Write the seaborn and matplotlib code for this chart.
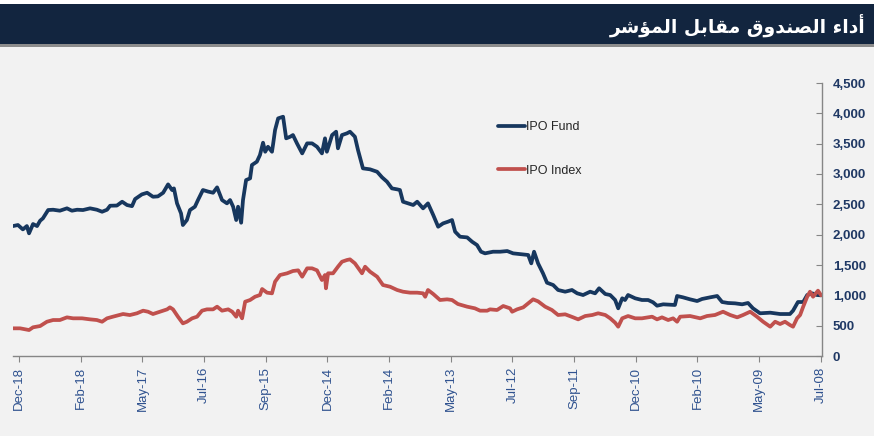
import numpy as np
import pandas as pd
import matplotlib
matplotlib.use('Agg')
import matplotlib.pyplot as plt
from matplotlib.patches import Rectangle
from matplotlib.ticker import FuncFormatter
import seaborn as sns

# trading-day index counted from the latest observation (Dec-18 on the left)
fund_day = [0, 16, 32, 45, 52, 65, 78, 88, 97, 114, 130, 152, 175, 191, 208, 227,
            250, 272, 289, 305, 315, 337, 354, 370, 386, 396, 418, 435, 454, 470,
            487, 503, 516, 522, 532, 545, 551, 564, 574, 590, 600, 616, 633, 649,
            662, 678, 694, 704, 714, 724, 730, 740, 746, 756, 769, 775, 791, 801,
            811, 818, 827, 840, 844, 850, 860, 876, 886, 899, 908, 921, 938, 954,
            970, 986, 1002, 1012, 1018, 1035, 1048, 1054, 1067, 1083, 1093, 1109,
            1119, 1135, 1158, 1181, 1197, 1213, 1229, 1246, 1255, 1265, 1281, 1298,
            1311, 1330, 1346, 1363, 1379, 1395, 1411, 1424, 1434, 1450, 1473, 1489,
            1505, 1518, 1531, 1557, 1580, 1603, 1622, 1651, 1671, 1681, 1690, 1703,
            1719, 1732, 1752, 1768, 1791, 1813, 1830, 1849, 1872, 1888, 1901, 1921,
            1937, 1953, 1963, 1976, 1985, 1995, 2018, 2040, 2060, 2076, 2089, 2109,
            2147, 2154, 2173, 2196, 2219, 2235, 2261, 2284, 2300, 2319, 2342, 2365,
            2384, 2400, 2423, 2456, 2488, 2520, 2530, 2546, 2563, 2576, 2592, 2608,
            2621]
fund_val = [2142, 2159, 2087, 2142, 2022, 2175, 2142, 2230, 2269, 2406, 2411, 2395,
            2434, 2395, 2411, 2406, 2434, 2411, 2378, 2411, 2477, 2480, 2543, 2488,
            2470, 2587, 2664, 2691, 2625, 2631, 2691, 2829, 2736, 2763, 2516, 2351,
            2159, 2241, 2406, 2461, 2571, 2736, 2710, 2691, 2780, 2571, 2516, 2571,
            2461, 2241, 2461, 2197, 2571, 2900, 2928, 3148, 3203, 3313, 3516, 3367,
            3449, 3367, 3505, 3725, 3917, 3944, 3588, 3614, 3642, 3505, 3340, 3505,
            3505, 3449, 3340, 3588, 3367, 3642, 3697, 3423, 3642, 3670, 3697, 3614,
            3395, 3093, 3077, 3037, 2945, 2873, 2763, 2747, 2736, 2543, 2516, 2489,
            2543, 2434, 2516, 2324, 2131, 2186, 2214, 2241, 2049, 1966, 1955, 1884,
            1829, 1719, 1692, 1719, 1719, 1730, 1692, 1676, 1665, 1527, 1719, 1527,
            1363, 1208, 1170, 1088, 1060, 1088, 1033, 1005, 1060, 1033, 1116, 1022,
            1005, 923, 786, 951, 923, 1005, 951, 923, 923, 885, 829, 852,
            841, 989, 967, 934, 906, 940, 967, 989, 890, 874, 868, 852,
            874, 786, 704, 714, 692, 692, 747, 890, 890, 1005, 1033, 1005,
            1000]

index_day = [0, 23, 39, 52, 65, 88, 110, 130, 152, 175, 195, 224, 250, 272, 289,
             305, 324, 357, 379, 402, 422, 438, 454, 477, 500, 509, 519, 535, 551,
             564, 581, 597, 613, 629, 649, 662, 678, 698, 711, 724, 730, 743, 753,
             769, 785, 801, 808, 824, 840, 850, 866, 889, 908, 925, 938, 954, 970,
             986, 1002, 1012, 1015, 1022, 1038, 1054, 1067, 1083, 1093, 1109, 1132,
             1142, 1158, 1181, 1200, 1223, 1246, 1265, 1288, 1311, 1330, 1337, 1346,
             1363, 1385, 1408, 1424, 1443, 1473, 1498, 1515, 1538, 1547, 1570, 1590,
             1612, 1619, 1635, 1655, 1671, 1687, 1703, 1726, 1748, 1768, 1791, 1817,
             1833, 1856, 1879, 1898, 1921, 1937, 1953, 1963, 1976, 1995, 2018, 2040,
             2073, 2089, 2105, 2125, 2141, 2154, 2164, 2196, 2229, 2251, 2277, 2303,
             2326, 2349, 2368, 2391, 2413, 2433, 2456, 2472, 2488, 2504, 2520, 2530,
             2543, 2553, 2563, 2576, 2585, 2595, 2611, 2621]
index_val = [456, 456, 440, 428, 473, 494, 565, 593, 593, 637, 621, 621, 604, 593,
             565, 621, 648, 692, 675, 704, 747, 730, 692, 730, 769, 802, 769, 648,
             538, 565, 621, 648, 747, 769, 769, 813, 747, 769, 730, 648, 747, 621,
             895, 923, 977, 1005, 1104, 1044, 1033, 1225, 1335, 1363, 1401, 1412,
             1307, 1445, 1445, 1412, 1252, 1335, 1116, 1363, 1363, 1472, 1554, 1582,
             1593, 1527, 1363, 1472, 1390, 1307, 1170, 1142, 1088, 1060, 1044, 1044,
             1033, 977, 1088, 1022, 923, 934, 923, 857, 813, 786, 747, 747, 769, 758,
             824, 786, 730, 769, 802, 868, 934, 901, 813, 758, 676, 687, 637, 604,
             659, 676, 704, 676, 621, 549, 483, 621, 659, 621, 621, 648, 604, 637,
             593, 621, 565, 648, 659, 621, 659, 676, 730, 676, 637, 676, 730, 648,
             565, 483, 565, 527, 565, 511, 483, 621, 676, 813, 977, 1060, 977, 1077,
             1000]

tick_labels = ['Dec-18', 'Feb-18', 'May-17', 'Jul-16', 'Sep-15', 'Dec-14', 'Feb-14',
               'May-13', 'Jul-12', 'Sep-11', 'Dec-10', 'Feb-10', 'May-09', 'Jul-08']

# Arabic title in presentation forms, visual order (matplotlib does no shaping)
title_logical = ('\uFE83\uFEA9\uFE8D\uFE80 '
                 '\uFE8D\uFEDF\uFEBC\uFEE8\uFEAA\uFEED\uFED5 '
                 '\uFEE3\uFED8\uFE8E\uFE91\uFEDE '
                 '\uFE8D\uFEDF\uFEE4\uFE86\uFEB7\uFEAE')
title = title_logical[::-1]

df = pd.concat([
    pd.DataFrame({'day': fund_day, 'value': fund_val, 'series': 'IPO Fund'}),
    pd.DataFrame({'day': index_day, 'value': index_val, 'series': 'IPO Index'}),
])

sns.set_style("ticks")
plt.rcParams['font.family'] = ['Liberation Sans', 'DejaVu Sans']

bg = '#f2f2f2'
fig = plt.figure(figsize=(8.74, 4.36), dpi=100, facecolor=bg)
fig.patches.append(Rectangle((0, 1 - 4 / 436), 1, 4 / 436, transform=fig.transFigure,
                             facecolor='white', edgecolor='none', zorder=0))
fig.patches.append(Rectangle((0, 1 - 44 / 436), 1, 40 / 436, transform=fig.transFigure,
                             facecolor='#12253f', edgecolor='none', zorder=1))
fig.patches.append(Rectangle((0, 1 - 47 / 436), 1, 3 / 436, transform=fig.transFigure,
                             facecolor='#8c8c8c', edgecolor='none', zorder=1))
fig.text(866 / 874, 1 - 25 / 436, title, ha='right', va='center', color='white',
         fontsize=13.5, fontweight='bold', family=['DejaVu Sans'])

ax = fig.add_axes([13 / 874, 80 / 436, 808.7 / 874, 273 / 436])
ax.set_facecolor(bg)
sns.lineplot(data=df, x='day', y='value', hue='series', estimator=None,
             palette={'IPO Fund': '#17375e', 'IPO Index': '#c0504d'},
             linewidth=2.7, ax=ax)

ax.set_xlim(0, 2623)
ax.set_ylim(0, 4500)
ax.set_xticks([20 + 200 * i for i in range(len(tick_labels))])
ax.set_xticklabels(tick_labels, rotation=90, fontsize=9.5, color='#2f528f')
ax.set_yticks(np.arange(0, 4501, 500))
ax.yaxis.set_major_formatter(FuncFormatter(lambda v, p: f'{int(v):,}'))
ax.yaxis.tick_right()
for lab in ax.get_yticklabels():
    lab.set_fontweight('bold')
ax.tick_params(axis='y', direction='in', length=4, pad=8, labelsize=9.5,
               labelcolor='#1f3864', color='#868686')
ax.tick_params(axis='x', direction='out', length=4, pad=4, color='#868686')
ax.set_xlabel('')
ax.set_ylabel('')
for side in ['left', 'top']:
    ax.spines[side].set_visible(False)
for side in ['right', 'bottom']:
    ax.spines[side].set_color('#868686')
    ax.spines[side].set_linewidth(1)

ax.legend(loc='upper left', bbox_to_anchor=(487 / 874, 1 - 110 / 436),
          bbox_transform=fig.transFigure, frameon=False, fontsize=9,
          handlelength=2.1, handletextpad=0.1, labelspacing=2.5,
          labelcolor='#262626')

plt.savefig('out.png', dpi=100, facecolor=bg)
